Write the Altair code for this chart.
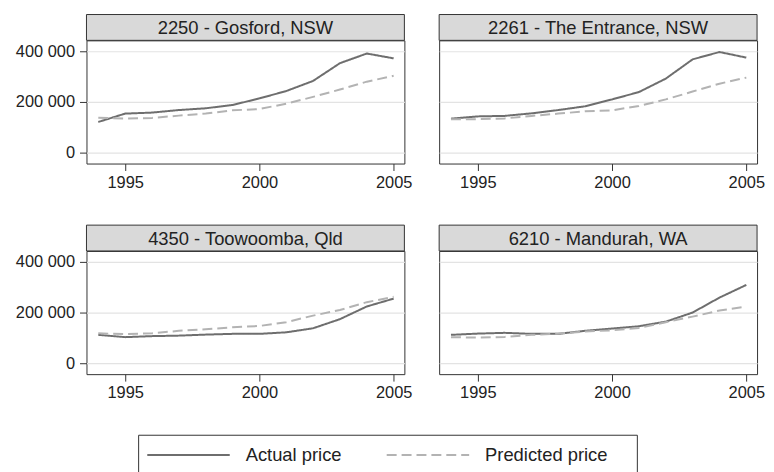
import altair as alt
import pandas as pd

years = list(range(1994, 2006))
regions = [
    "2250 - Gosford, NSW",
    "2261 - The Entrance, NSW",
    "4350 - Toowoomba, Qld",
    "6210 - Mandurah, WA",
]
series_names = ["Actual price", "Predicted price"]

gosford_actual = [121000, 154000, 158000, 168000, 175000, 188000, 214000, 243000, 283000, 353000, 391000, 372000]
gosford_pred = [138000, 134000, 137000, 146000, 154000, 167000, 172000, 193000, 220000, 249000, 280000, 303000]
entrance_actual = [134000, 143000, 145000, 155000, 168000, 183000, 210000, 239000, 292000, 368000, 397000, 375000]
entrance_pred = [132000, 132000, 135000, 145000, 154000, 163000, 167000, 184000, 210000, 241000, 272000, 296000]
toowoomba_actual = [112000, 103000, 107000, 109000, 113000, 116000, 116000, 122000, 138000, 174000, 224000, 255000]
toowoomba_pred = [118000, 115000, 118000, 128000, 134000, 142000, 147000, 162000, 188000, 210000, 241000, 262000]
mandurah_actual = [112000, 117000, 120000, 116000, 116000, 128000, 137000, 146000, 164000, 200000, 259000, 309000]
mandurah_pred = [103000, 101000, 104000, 112000, 117000, 125000, 130000, 139000, 162000, 184000, 208000, 224000]

actuals = [gosford_actual, entrance_actual, toowoomba_actual, mandurah_actual]
preds = [gosford_pred, entrance_pred, toowoomba_pred, mandurah_pred]

rows = []
for region, act, pred in zip(regions, actuals, preds):
    for yr, a, p in zip(years, act, pred):
        rows.append({"region": region, "year": yr, "series": series_names[0], "price": a})
        rows.append({"region": region, "year": yr, "series": series_names[1], "price": p})
df = pd.DataFrame(rows)

W, H, STRIP = 320, 124, 26
FONT = "Liberation Sans"
TXT = "#222222"
AX_FS = 16.5

legend_cfg = dict(
    orient="none", legendX=52, legendY=397, direction="horizontal",
    title="\u200b", titleOrient="right", titlePadding=18, titleFontSize=1,
    symbolType="M-5,0H5", symbolSize=275.6, symbolStrokeWidth=2, symbolOffset=30.2,
    labelFontSize=18.5, labelFont=FONT, labelColor=TXT, labelOffset=48,
    columnPadding=41, padding=11, strokeColor="#333333", fillColor="white",
)


def panel(region, show_y):
    base = alt.Chart(df).transform_filter(alt.datum.region == region)
    lines = base.mark_line(strokeWidth=2).encode(
        x=alt.X("year:Q",
                scale=alt.Scale(domain=[1993.56, 2005.4], nice=False, zero=False),
                axis=alt.Axis(values=[1995, 2000, 2005], format="d", title=None, grid=False,
                              domain=False, tickSize=7, tickColor="#333333", labelFlush=False,
                              labelPadding=4, labelFont=FONT, labelFontSize=AX_FS, labelColor=TXT)),
        y=alt.Y("price:Q",
                scale=alt.Scale(domain=[-43000, 443000], nice=False, zero=False),
                axis=alt.Axis(values=[0, 200000, 400000], title=None, grid=True,
                              gridColor="#e3e3e3", gridWidth=1.2, domain=False,
                              labels=show_y, ticks=show_y, tickSize=7, tickColor="#333333",
                              labelPadding=5, labelFont=FONT, labelFontSize=AX_FS, labelColor=TXT,
                              labelExpr="datum.value == 0 ? '0' : format(datum.value / 1000, 'd') + ' 000'")),
        color=alt.Color("series:N",
                        scale=alt.Scale(domain=series_names, range=["#6e6e6e", "#b3b3b3"]),
                        legend=alt.Legend(**legend_cfg)),
        strokeDash=alt.StrokeDash("series:N",
                                  scale=alt.Scale(domain=series_names, range=[[1, 0], [10, 5]]),
                                  legend=alt.Legend(**legend_cfg)),
    )
    lab = pd.DataFrame({"label": [region]})
    strip = alt.Chart(lab).mark_rect(fill="#d9d9d9", stroke="#333333", strokeWidth=1).encode(
        x=alt.value(0), x2=alt.value(W), y=alt.value(-STRIP), y2=alt.value(0))
    text = alt.Chart(lab).mark_text(fontSize=18.5, font=FONT, color=TXT, baseline="middle").encode(
        x=alt.value(W / 2), y=alt.value(-STRIP / 2 + 1), text="label:N")
    return alt.layer(lines, strip, text).properties(width=W, height=H)


row1 = alt.hconcat(panel(regions[0], True), panel(regions[1], False), spacing=25)
row2 = alt.hconcat(panel(regions[2], True), panel(regions[3], False), spacing=25)

chart = alt.vconcat(row1, row2, spacing=33).properties(
    padding={"left": 6, "top": 4, "right": 0, "bottom": 5}
).configure(
    font=FONT, background="white"
).configure_view(
    stroke="#333333", strokeWidth=1
)

chart.save("out.html", embed_options={"renderer": "svg", "actions": False})
